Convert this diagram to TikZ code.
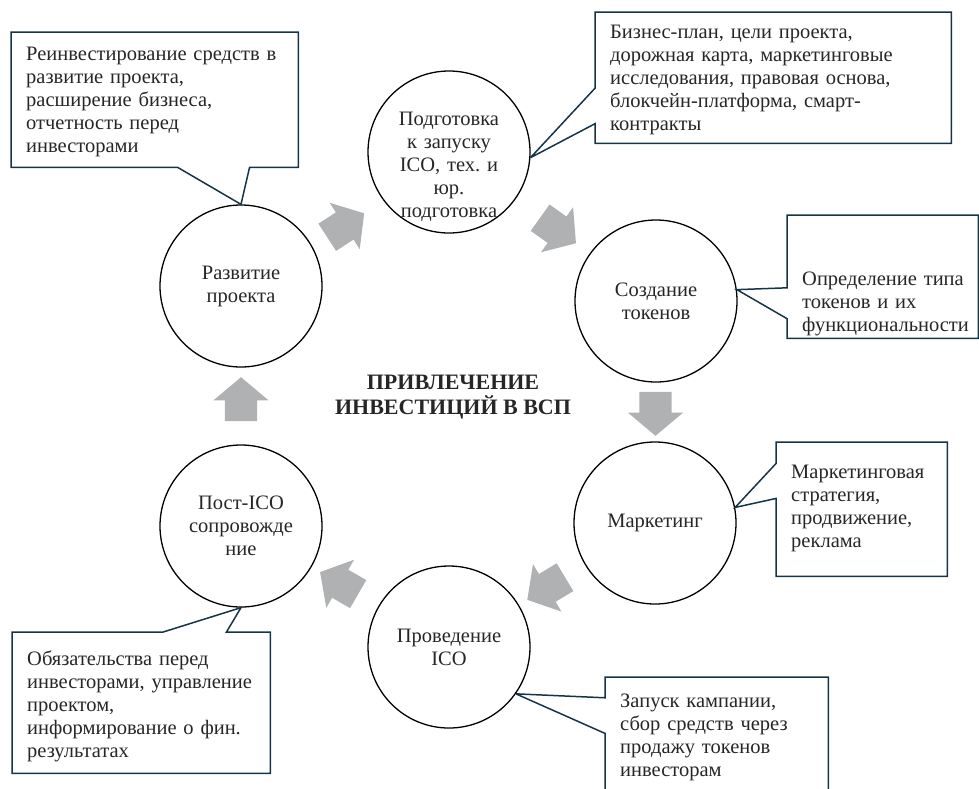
\documentclass[tikz,border=0pt]{standalone}
\usepackage{fontspec}
\setmainfont{Liberation Serif}
\usetikzlibrary{shapes.arrows, calc}
\definecolor{notecolor}{RGB}{22,52,72}
\definecolor{arrowgray}{RGB}{176,177,179}
\newcommand{\bodysize}{\fontsize{20.5pt}{23pt}\selectfont\frenchspacing}
\tikzstyle{stage} = [circle, minimum size=162pt, inner sep=0pt, align=center, draw=black, line width=1.3pt, font=\bodysize, text=black!85]
\tikzstyle{note} = [rectangle, anchor=north west, inner xsep=15pt, inner ysep=0pt, align=left, font=\bodysize, text=black!85]
\tikzstyle{noteline} = [draw=notecolor, line width=1.5pt, line join=miter, miter limit=4]
\tikzstyle{flow} = [single arrow, draw=none, fill=arrowgray, minimum height=44pt, inner xsep=0pt, inner ysep=16pt, single arrow head extend=11.5pt, single arrow tip angle=100]
\tikzstyle{heading} = [align=center, font=\fontsize{22pt}{25pt}\selectfont\bfseries, text=black!85]

\begin{document}
\begin{tikzpicture}[x=1pt, y=-1pt]
\useasboundingbox (0,0) rectangle (979,788);

% Stages of the cycle
\node (prep) [stage, text width=110pt, text depth=66pt] at (449,152) {Подготовка\\к запуску\\ICO, тех. и\\юр.\\подготовка};
\node (tokens) [stage] at (656,301) {Создание\\токенов};
\node (mark) [stage] at (655,523) {Маркетинг};
\node (ico) [stage] at (449,647) {Проведение\\ICO};
\node (post) [stage] at (241,526) {Пост-ICO\\сопровожде\\ние};
\node (dev) [stage] at (241,286) {Развитие\\проекта};

% Title
\node (title) [heading] at (453,397) {ПРИВЛЕЧЕНИЕ\\ИНВЕСТИЦИЙ В ВСП};

% Flow arrows
\node (dev_prep) [flow, xshift=-5pt, yshift=-10pt, rotate=33] at ($(dev)!0.5!(prep)$) {};
\node (prep_tokens) [flow, rotate=-35.5] at ($(prep)!0.5!(tokens)$) {};
\node (tokens_mark) [flow, yshift=5pt, rotate=-90] at ($(tokens)!0.5!(mark)$) {};
\node (mark_ico) [flow, rotate=-149] at ($(mark)!0.5!(ico)$) {};
\node (ico_post) [flow, rotate=150] at ($(ico)!0.5!(post)$) {};
\node (post_dev) [flow, rotate=90] at ($(post)!0.5!(dev)$) {};

% Notes
\node (dev_note) [note, text width=257pt, text height=28pt, text depth=107pt] at (11,32) {Реинвестирование~средств~в\\развитие проекта,\\расширение бизнеса,\\отчетность перед\\инвесторами};
\node (prep_note) [note, text width=326pt, text height=26pt, text depth=105pt] at (595,12) {Бизнес-план, цели проекта,\\дорожная карта, маркетинговые\\исследования, правовая основа,\\блокчейн-платформа, смарт-\\контракты};
\node (tokens_note) [note, text width=161pt, text height=70pt, text depth=53pt] at (787,215) {Определение~типа\\токенов~и~их\\функциональности};
\node (mark_note) [note, text width=141pt, text height=36pt, text depth=98pt] at (776,442) {Маркетинговая\\стратегия,\\продвижение,\\реклама};
\node (ico_note) [note, text width=193pt, text height=30pt, text depth=118pt] at (605,677) {Запуск кампании,\\сбор средств через\\продажу токенов\\инвесторам};
\node (post_note) [note, text width=228pt, text height=33pt, text depth=108pt] at (12,632) {Обязательства перед\\инвесторами,~управление\\проектом,\\информирование~о~фин.\\результатах};

% Callout outlines
\draw [noteline] (dev_note.north west) -- (dev_note.north east) -- (dev_note.south east)
  -- ($(dev_note.south west)!0.83!(dev_note.south east)$) -- (dev.north)
  -- ($(dev_note.south west)!0.58!(dev_note.south east)$) -- (dev_note.south west) -- cycle;
\draw [noteline] (prep_note.north west) -- (prep_note.north east) -- (prep_note.south east) -- (prep_note.south west)
  -- ($(prep_note.north west)!0.85!(prep_note.south west)$) -- (prep.-4)
  -- ($(prep_note.north west)!0.58!(prep_note.south west)$) -- cycle;
\draw [noteline] (tokens_note.north west) -- (tokens_note.north east) -- (tokens_note.south east) -- (tokens_note.south west)
  -- ($(tokens_note.north west)!0.84!(tokens_note.south west)$) -- (tokens.8)
  -- ($(tokens_note.north west)!0.59!(tokens_note.south west)$) -- cycle;
\draw [noteline] (mark_note.north west) -- (mark_note.north east) -- (mark_note.south east) -- (mark_note.south west)
  -- ($(mark_note.north west)!0.42!(mark_note.south west)$) -- (mark.11)
  -- ($(mark_note.north west)!0.16!(mark_note.south west)$) -- cycle;
\draw [noteline] (ico_note.north west) -- (ico_note.north east) -- (ico_note.south east) -- (ico_note.south west)
  -- ($(ico_note.north west)!0.38!(ico_note.south west)$) -- (ico.-35)
  -- ($(ico_note.north west)!0.14!(ico_note.south west)$) -- cycle;
\draw [noteline] (post_note.north west) -- ($(post_note.north west)!0.585!(post_note.north east)$) -- (post.south)
  -- ($(post_note.north west)!0.83!(post_note.north east)$) -- (post_note.north east)
  -- (post_note.south east) -- (post_note.south west) -- cycle;

\end{tikzpicture}
\end{document}
